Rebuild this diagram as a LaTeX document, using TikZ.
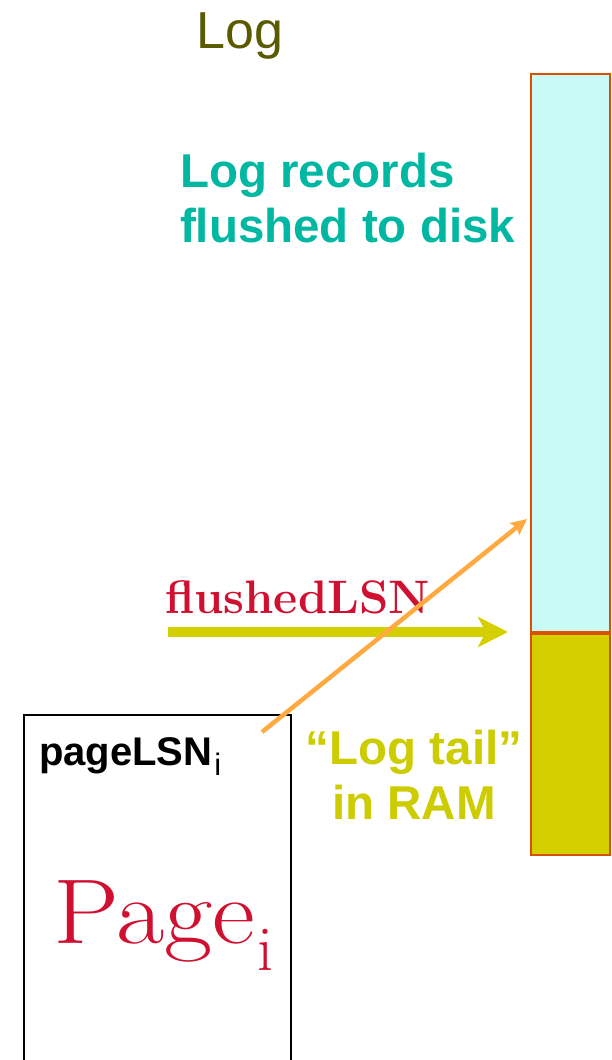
\documentclass[tikz,border=0pt]{standalone}
\usepackage{fontspec}
\setsansfont{Liberation Sans}
\usetikzlibrary{arrows.meta}
\definecolor{logolive}{RGB}{90,90,0}
\definecolor{diskteal}{RGB}{0,184,162}
\definecolor{lsnred}{RGB}{208,16,48}
\definecolor{tailyellow}{RGB}{212,208,0}
\definecolor{tailtext}{RGB}{204,204,0}
\definecolor{logedge}{RGB}{217,80,0}
\definecolor{diskcyan}{RGB}{202,250,246}
\definecolor{lsnorange}{RGB}{255,170,64}
\tikzset{
  every node/.style={inner sep=0pt, outer sep=0pt},
  logbox/.style={draw=logedge, line width=2.5pt, minimum width=79pt, anchor=north west},
  sanstext/.style={font=\sffamily\bfseries\fontsize{47.5}{55}\selectfont, align=#1},
  sanstext/.default=left
}
\begin{document}
\begin{tikzpicture}[x=1pt,y=-1pt]
  \useasboundingbox (0,0) rectangle (611,1060);
  % log column
  \node[logbox, fill=diskcyan, minimum height=559pt] (disk) at (531,74) {};
  \node[logbox, fill=tailyellow, minimum height=222pt] (tail) at (531,633) {};
  \draw[logedge, line width=4.5pt] (tail.north west) -- (tail.north east);
  % page in the buffer pool
  \node[draw, line width=2pt, minimum width=267pt, minimum height=370pt, anchor=north west] (page) at (24,715) {};
  % texts
  \node[font=\sffamily\fontsize{52}{52}\selectfont, text=logolive, anchor=base] (title) at (240,48) {Log};
  \node[sanstext, text=diskteal, anchor=north west] (flushed) at (180,153) {Log records\\flushed to disk};
  \node[font=\bfseries\fontsize{47}{47}\selectfont, text=lsnred, anchor=base west] (flsn) at (165,613) {flushedLSN};
  \node[sanstext=center, text=tailtext, anchor=north] (tailtxt) at (414,730) {“Log tail”\\in RAM};
  \node[font=\sffamily\bfseries\fontsize{40}{40}\selectfont, anchor=base west] (plsn) at (39,765)
    {pageLSN\kern2pt\raisebox{-10pt}{\mdseries\fontsize{31}{31}\selectfont i}};
  \node[font=\fontsize{92}{92}\selectfont, text=lsnred, anchor=base west] (pagename) at (53,943)
    {\scalebox{1.14}[1]{Page}\kern3pt\raisebox{-27pt}{\fontsize{64}{64}\selectfont i}};
  % arrows
  \coordinate (flstart) at (168,632);
  \coordinate (flend) at (508,632);
  \coordinate (lsnout) at (262,732);
  \coordinate (lsnin) at (527,519);
  \draw[tailyellow, line width=10pt, -{Stealth[length=30pt,width=30pt,inset=8pt]}] (flstart) -- (flend);
  \draw[lsnorange, line width=4.5pt, -{Stealth[length=16pt,width=15pt,inset=3pt]}] (lsnout) -- (lsnin);
\end{tikzpicture}
\end{document}
